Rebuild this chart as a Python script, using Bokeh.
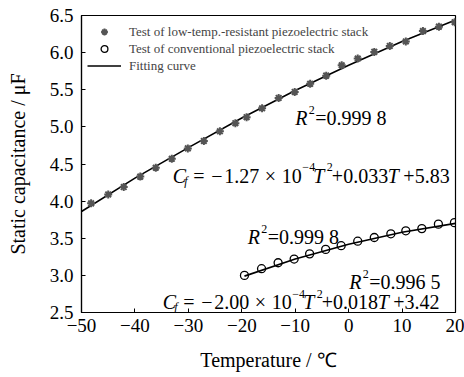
from bokeh.plotting import figure
from bokeh.models import (Range1d, SingleIntervalTicker, CustomJSTickFormatter, Label,
                          Legend, LegendItem)
from bokeh.embed import file_html
from bokeh.resources import INLINE

# ---------------- data ----------------
low_temp_T = [-48.2, -45.0, -42.1, -39.0, -36.1, -33.1, -30.1, -27.1, -24.1, -21.2, -19.1, -16.2,
              -13.1, -10.1, -7.2, -4.2, -1.3, 1.7, 4.8, 7.7, 10.7, 13.9, 16.9, 19.85]
low_temp_C = [3.97, 4.09, 4.19, 4.33, 4.45, 4.57, 4.71, 4.81, 4.94, 5.05, 5.13, 5.25,
              5.39, 5.47, 5.58, 5.69, 5.83, 5.92, 6.01, 6.09, 6.15, 6.29, 6.35, 6.41]

conv_T = [-19.5, -16.3, -13.2, -10.2, -7.3, -4.3, -1.4, 1.7, 4.8, 7.9, 10.7, 13.7, 16.8, 19.8]
conv_C = [3.00, 3.09, 3.17, 3.22, 3.29, 3.35, 3.40, 3.46, 3.51, 3.56, 3.60, 3.63, 3.69, 3.71]

fit_low_T = [-50, -40, -30, -20, -10, 0, 10, 20]
fit_low_C = [3.86, 4.31, 4.72, 5.12, 5.49, 5.83, 6.15, 6.44]

fit_conv_T = [-19.5, -10, 0, 10, 20]
fit_conv_C = [2.99, 3.22, 3.42, 3.58, 3.70]

legend_labels = ["Test of low-temp.-resistant piezoelectric stack",
                 "Test of conventional piezoelectric stack",
                 "Fitting curve"]
x_label = "Temperature / \u2103"
y_label = "Static capacitance / \u03bcF"

FONT = "Liberation Serif"

p = figure(width=464, height=377, output_backend="svg", toolbar_location=None,
           x_range=Range1d(-50, 20), y_range=Range1d(2.5, 6.5),
           min_border_left=81, min_border_right=9, min_border_top=15, min_border_bottom=65)
p.grid.visible = False
p.outline_line_color = "black"
p.outline_line_width = 1.2
p.background_fill_color = "white"
p.border_fill_color = "white"

for ax in (p.xaxis[0], p.yaxis[0]):
    ax.major_tick_in = 4
    ax.major_tick_out = 0
    ax.minor_tick_line_color = None
    ax.axis_line_color = "black"
    ax.axis_line_width = 1.2
    ax.major_tick_line_color = "black"
    ax.major_label_text_font = FONT
    ax.major_label_text_font_size = "19px"
    ax.major_label_text_color = "black"
    ax.axis_label_text_font = FONT
    ax.axis_label_text_font_size = "20px"
    ax.axis_label_text_font_style = "normal"
    ax.axis_label_text_color = "black"

p.xaxis[0].ticker = SingleIntervalTicker(interval=10, num_minor_ticks=0)
p.yaxis[0].ticker = SingleIntervalTicker(interval=0.5, num_minor_ticks=0)
p.xaxis[0].formatter = CustomJSTickFormatter(
    code="return (tick < 0 ? '\\u2212' : '') + Math.abs(tick).toFixed(0);")
p.yaxis[0].formatter = CustomJSTickFormatter(code="return tick.toFixed(1);")
p.xaxis[0].axis_label = x_label
p.yaxis[0].axis_label = y_label
p.xaxis[0].major_label_standoff = 6
p.xaxis[0].axis_label_standoff = 14
p.yaxis[0].major_label_standoff = 8
p.yaxis[0].axis_label_standoff = 18

# fitting curves
l1 = p.line(fit_low_T, fit_low_C, line_color="black", line_width=1.6)
p.line(fit_conv_T, fit_conv_C, line_color="black", line_width=1.6)

# markers
s1 = p.scatter(low_temp_T, low_temp_C, marker="asterisk", size=8, line_color="#555555",
               line_width=2)
s2 = p.scatter(conv_T, conv_C, marker="circle", size=8, line_color="black", line_width=1.3,
               fill_color=None)

legend = Legend(items=[LegendItem(label=legend_labels[0], renderers=[s1]),
                       LegendItem(label=legend_labels[1], renderers=[s2]),
                       LegendItem(label=legend_labels[2], renderers=[l1])],
                location=(6, 238), border_line_color=None, background_fill_alpha=0,
                label_text_font=FONT, label_text_font_size="13px",
                glyph_width=34, glyph_height=17, label_height=17, label_standoff=8,
                spacing=0, padding=4, margin=0)
p.add_layout(legend)

# ---------------- rich-text annotations ----------------
# each piece: (text, kind, horizontal offset in px from the anchor)
def place(x, y, pieces, size):
    for text, kind, dx in pieces:
        italic = kind in ("i", "subi")
        small = kind in ("sup", "subi")
        sz = size * (0.6 if small else 1.0)
        dy = 0.42 * size if kind == "sup" else (-0.25 * size if kind == "subi" else 0)
        p.add_layout(Label(x=x, y=y, x_offset=dx, y_offset=dy, text=text,
                           text_font=FONT, text_font_size=f"{sz:.1f}px",
                           text_font_style="italic" if italic else "normal",
                           text_baseline="alphabetic", text_align="left",
                           text_color="black"))


def r2(val):
    return [("R", "i", 0), ("2", "sup", 13.5), ("=" + val, "n", 20)]


def eq(a, b, c):
    return [("C", "i", 0), ("f", "subi", 11.5), ("=", "n", 20.5), ("\u2212", "n", 38.5),
            (a, "n", 51.5), ("\u00d7", "n", 92), ("10", "n", 109), ("\u22124", "sup", 129.5),
            ("T", "i", 140.5), ("2", "sup", 154), ("+" + b, "n", 159), ("T", "i", 215),
            ("+" + c, "n", 230.5)]


place(-10.0, 5.12, r2("0.999 8"), 20)
place(-32.9, 4.34, eq("1.27", "0.033", "5.83"), 20)
place(-18.9, 3.515, r2("0.999 8"), 20)
place(0.1, 2.91, r2("0.996 5"), 20)
place(-34.8, 2.64, eq("2.00", "0.018", "3.42"), 20)

open("out.html", "w").write(file_html(p, INLINE))
